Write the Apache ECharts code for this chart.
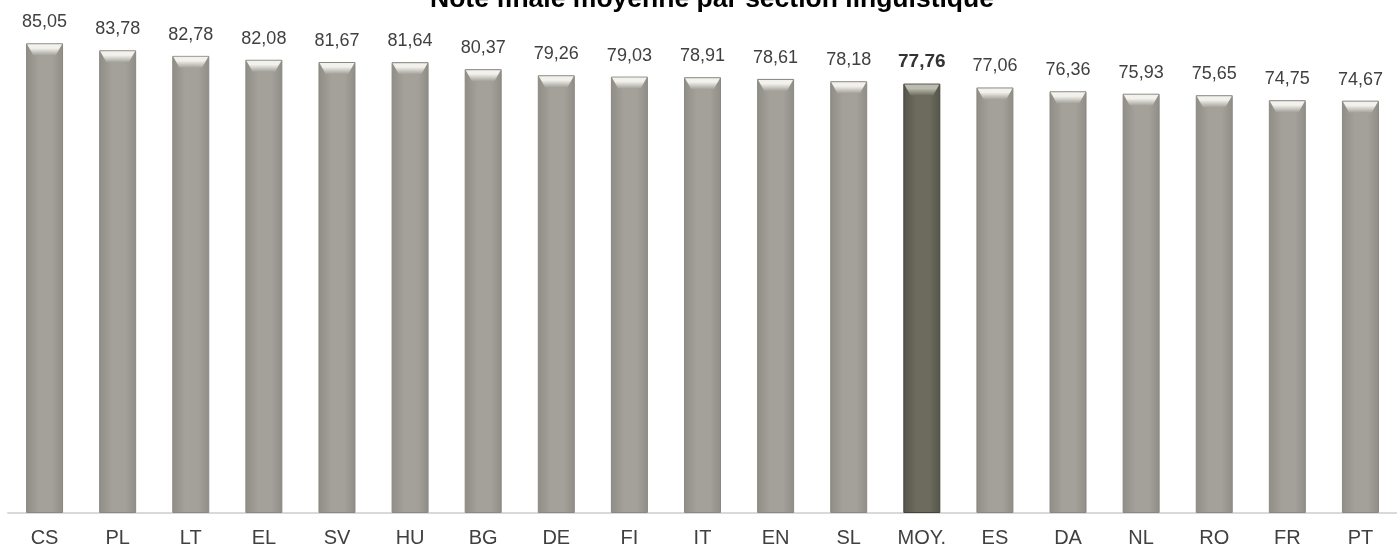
<!DOCTYPE html>
<html>
<head>
    <meta charset="utf-8" />
    <title>Note finale moyenne</title>
    <script src="https://cdn.jsdelivr.net/npm/echarts@6/dist/echarts.min.js"></script>
    <style>
        html, body { margin: 0; padding: 0; background: #fff; }
        #main { width: 1397px; height: 548px; }
    </style>
</head>
<body>
<div id="main"></div>
<script type="text/javascript">
    // sections linguistiques et notes moyennes
    var sections = ['CS', 'PL', 'LT', 'EL', 'SV', 'HU', 'BG', 'DE', 'FI', 'IT', 'EN', 'SL', 'MOY.', 'ES', 'DA', 'NL', 'RO', 'FR', 'PT'];
    var notes = [85.05, 83.78, 82.78, 82.08, 81.67, 81.64, 80.37, 79.26, 79.03, 78.91, 78.61, 78.18, 77.76, 77.06, 76.36, 75.93, 75.65, 74.75, 74.67];
    var moyenne = 'MOY.';

    function grad(edge, mid) {
        return new echarts.graphic.LinearGradient(0, 0, 1, 0, [
            {offset: 0, color: edge},
            {offset: 0.35, color: mid},
            {offset: 0.7, color: mid},
            {offset: 1, color: edge}
        ]);
    }
    function capGrad(light, base) {
        return new echarts.graphic.LinearGradient(0, 0, 0, 1, [
            {offset: 0, color: light},
            {offset: 0.35, color: light},
            {offset: 1, color: base}
        ]);
    }

    var barData = [];
    var capData = [];
    for (let i = 0; i < notes.length; i++) {
        let isMoy = sections[i] === moyenne;
        barData.push({
            value: notes[i],
            itemStyle: {
                color: isMoy ? grad('#55554a', '#6c6b5e') : grad('#8f8d86', '#a3a19a'),
                borderColor: isMoy ? '#45453a' : '#8a8882',
                borderWidth: 1
            },
            label: isMoy ? {fontWeight: 'bold', color: '#333', fontSize: 19} : {}
        });
        capData.push({
            value: notes[i],
            itemStyle: {color: isMoy ? capGrad('#bdbcb0', '#6c6b5e') : capGrad('#f2f1ec', '#a3a19a')}
        });
    }

    var option = {
        animation: false,
        title: {
            text: 'Note finale moyenne par section linguistique',
            left: 425,
            top: -19,
            textStyle: {fontFamily: 'Liberation Sans', fontSize: 26.5, fontWeight: 'bold', color: '#000'}
        },
        grid: {left: 8, top: 16, width: 1400, bottom: 35, containLabel: false},
        xAxis: {
            type: 'category',
            data: sections,
            axisLine: {lineStyle: {color: '#d9d9d9', width: 2}},
            axisTick: {show: false},
            axisLabel: {fontFamily: 'Liberation Sans', fontSize: 20, color: '#404040', margin: 15}
        },
        yAxis: {
            type: 'value',
            min: 0,
            max: 90,
            show: false,
            splitLine: {show: false}
        },
        series: [{
            type: 'bar',
            data: barData,
            barWidth: 37,
            label: {
                show: true,
                position: 'top',
                distance: 12,
                fontFamily: 'Liberation Sans',
                fontSize: 18,
                color: '#404040',
                formatter: function (p) { return p.value.toFixed(2).replace('.', ','); }
            }
        }, {
            type: 'pictorialBar',
            data: capData,
            symbol: 'path://M0,0 L10,0 L8.2,2 L1.8,2 Z',
            symbolSize: [35, 11],
            symbolPosition: 'end',
            symbolOffset: [0, 1],
            z: 5,
            silent: true
        }]
    };

    let myChart = echarts.init(document.getElementById('main'));
    myChart.setOption(option);
</script>
</body>
</html>
